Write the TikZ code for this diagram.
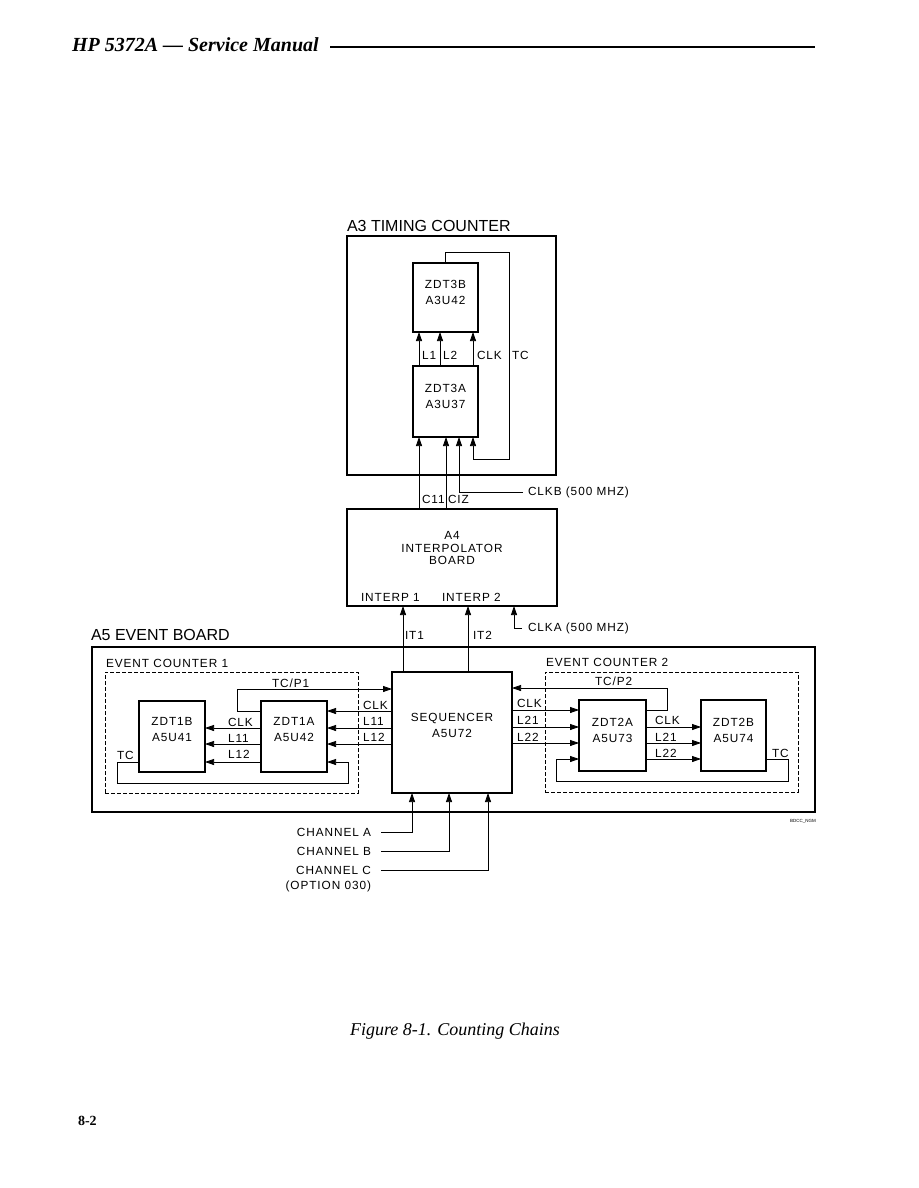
\documentclass[tikz,border=0pt]{standalone}
\usepackage{fontspec}
\setmainfont{Liberation Serif}
\newfontfamily\dfont[LetterSpace=8]{Liberation Sans}
\newfontfamily\bigfont{Liberation Sans}
\usetikzlibrary{arrows.meta,calc}
\begin{document}
\begin{tikzpicture}[x=1pt,y=-1pt,
  every node/.style={inner sep=0pt, outer sep=0pt},
  lbl/.style={font=\dfont\fontsize{11.8}{14}\selectfont, anchor=west},
  big/.style={font=\bigfont\fontsize{16}{19}\selectfont, anchor=base west},
  chiptxt/.style={font=\dfont\fontsize{11.8}{16}\selectfont, align=center},
  chip/.style={draw, line width=1.1pt, anchor=north west},
  board/.style={draw, line width=1.6pt, anchor=north west},
  ecbox/.style={draw, dash pattern=on 4pt off 2pt, line width=0.6pt, anchor=north west},
  wire/.style={line width=0.75pt},
  arr/.style={wire, -{Triangle[length=9pt,width=6pt]}},
]
\fill[white] (0,0) rectangle (918,1188);
\useasboundingbox (0,0) rectangle (918,1188);

% header
\node[font=\bfseries\itshape\fontsize{20}{23}\selectfont, anchor=base west] (hdr) at (72,52) {HP 5372A — Service Manual};
\draw[line width=1.4pt] (330,47) -- (815,47);

% ---------- A3 ----------
\node[big] (a3lbl) at (347,231) {A3 TIMING COUNTER};
\node[board, minimum width=209pt, minimum height=239pt] (a3) at (347,236) {};
\node[chip, minimum width=65pt, minimum height=69pt] (z3b) at (413,263) {};
\node[chiptxt] (z3bt) at ([yshift=-29pt]z3b.north) {ZDT3B\\A3U42};
\node[chip, minimum width=65pt, minimum height=71pt] (z3a) at (413,366) {};
\node[chiptxt] (z3at) at ([yshift=-30pt]z3a.north) {ZDT3A\\A3U37};

\draw[arr] ([xshift=6pt]z3a.north west) -- ([xshift=6pt]z3b.south west);
\draw[arr] ([xshift=27pt]z3a.north west) -- ([xshift=27pt]z3b.south west);
\draw[arr] ([xshift=60pt]z3a.north west) -- ([xshift=60pt]z3b.south west);
\coordinate (tctop) at (509,252);
\coordinate (tcbot) at (509,459);
\draw[arr] (z3b.north) |- (tctop) -- (tcbot) -| ([xshift=60pt]z3a.south west);
\node[lbl] (l1) at (422,355) {L1};
\node[lbl] (l2) at (443,355) {L2};
\node[lbl] (clk3) at (477,355) {CLK};
\node[lbl] (tc3) at (512,355) {TC};

% ---------- A4 ----------
\node[board, minimum width=210pt, minimum height=97pt] (a4) at (347,509) {};
\node[font=\dfont\fontsize{11.8}{12.5}\selectfont, align=center] (a4t) at (452,548) {A4\\INTERPOLATOR\\BOARD};
\node[lbl] (ip1) at (361,597) {INTERP 1};
\node[lbl] (ip2) at (442,597) {INTERP 2};

\draw[arr] ([xshift=72pt]a4.north west) -- ([xshift=6pt]z3a.south west);
\draw[arr] ([xshift=99pt]a4.north west) -- ([xshift=33pt]z3a.south west);
\coordinate (clkb) at (523,492);
\draw[arr] (clkb) -| ([xshift=46pt]z3a.south west);
\node[lbl] (c11) at (422,499) {C11};
\node[lbl] (c12) at (448,499) {CIZ};
\node[lbl] (clkbl) at (528,492) {CLKB (500 MHZ)};

% ---------- A5 ----------
\node[big] (a5lbl) at (91,640) {A5 EVENT BOARD};
\node[board, minimum width=723pt, minimum height=165pt] (a5) at (92,647) {};
\node[ecbox, minimum width=253pt, minimum height=121pt] (ec1) at (105,672) {};
\node[ecbox, minimum width=253pt, minimum height=120pt] (ec2) at (545,672) {};
\node[lbl] (ec1l) at (106,663) {EVENT COUNTER 1};
\node[lbl] (ec2l) at (546,662) {EVENT COUNTER 2};

\node[chip, minimum width=66pt, minimum height=71pt] (z1b) at (139,701) {};
\node[chiptxt] (z1bt) at ([yshift=-28pt]z1b.north) {ZDT1B\\A5U41};
\node[chip, minimum width=66pt, minimum height=71pt] (z1a) at (261,701) {};
\node[chiptxt] (z1at) at ([yshift=-28pt]z1a.north) {ZDT1A\\A5U42};
\node[chip, minimum width=120pt, minimum height=121pt] (seq) at (392,672) {};
\node[chiptxt] (seqt) at ([yshift=-53pt]seq.north) {SEQUENCER\\A5U72};
\node[chip, minimum width=67pt, minimum height=71pt] (z2a) at (579,700) {};
\node[chiptxt] (z2at) at ([yshift=-30pt]z2a.north) {ZDT2A\\A5U73};
\node[chip, minimum width=65pt, minimum height=71pt] (z2b) at (701,700) {};
\node[chiptxt] (z2bt) at ([yshift=-30pt]z2b.north) {ZDT2B\\A5U74};

% A4 inputs
\draw[arr] ([xshift=11pt]seq.north west) -- ([xshift=56pt]a4.south west);
\draw[arr] ([xshift=76pt]seq.north west) -- ([xshift=121pt]a4.south west);
\coordinate (clka) at (522,628);
\draw[arr] (clka) -| ([xshift=167pt]a4.south west);
\node[lbl] (it1) at (405,635) {IT1};
\node[lbl] (it2) at (473,635) {IT2};
\node[lbl] (clkal) at (528,628) {CLKA (500 MHZ)};

% left counter
\coordinate (r1a) at ([yshift=-10pt]z1a.north east);
\coordinate (r2a) at ([yshift=-27pt]z1a.north east);
\coordinate (r3a) at ([yshift=-43pt]z1a.north east);
\coordinate (r4a) at ([yshift=-61pt]z1a.north east);
\draw[arr] (seq.west |- r1a) -- (r1a);
\draw[arr] (seq.west |- r2a) -- (r2a);
\draw[arr] (seq.west |- r3a) -- (r3a);
\coordinate (tcp1) at (237,689);
\draw[arr] ([yshift=-10pt]z1a.north west) -| (tcp1) -- (seq.west |- tcp1);
\draw[arr] ([yshift=-27pt]z1a.north west) -- ([yshift=-27pt]z1b.north east);
\draw[arr] ([yshift=-43pt]z1a.north west) -- ([yshift=-43pt]z1b.north east);
\draw[arr] ([yshift=-61pt]z1a.north west) -- ([yshift=-61pt]z1b.north east);
\coordinate (tcl1) at (117,783);
\coordinate (tcl2) at (348,783);
\draw[arr] ([yshift=-61pt]z1b.north west) -| (tcl1) -- (tcl2) |- (r4a);
\node[lbl] (tcp1l) at (272,683) {TC/P1};
\node[lbl] (sclk1) at (363,705) {CLK};
\node[lbl] (sl11) at (363,721) {L11};
\node[lbl] (sl12) at (363,737) {L12};
\node[lbl] (bclk1) at (228,722) {CLK};
\node[lbl] (bl11) at (228,738) {L11};
\node[lbl] (bl12) at (228,754) {L12};
\node[lbl] (tc1) at (117,755) {TC};

% right counter
\coordinate (r1b) at ([yshift=-10pt]z2a.north west);
\coordinate (r2b) at ([yshift=-27pt]z2a.north west);
\coordinate (r3b) at ([yshift=-43pt]z2a.north west);
\coordinate (r4b) at ([yshift=-59pt]z2a.north west);
\draw[arr] (seq.east |- r1b) -- (r1b);
\draw[arr] (seq.east |- r2b) -- (r2b);
\draw[arr] (seq.east |- r3b) -- (r3b);
\coordinate (tcp2) at (667,688);
\draw[arr] ([yshift=-10pt]z2a.north east) -| (tcp2) -- (seq.east |- tcp2);
\draw[arr] ([yshift=-27pt]z2a.north east) -- ([yshift=-27pt]z2b.north west);
\draw[arr] ([yshift=-43pt]z2a.north east) -- ([yshift=-43pt]z2b.north west);
\draw[arr] ([yshift=-59pt]z2a.north east) -- ([yshift=-59pt]z2b.north west);
\coordinate (tcr1) at (788,781);
\coordinate (tcr2) at (556,781);
\draw[arr] ([yshift=-59pt]z2b.north east) -| (tcr1) -- (tcr2) |- (r4b);
\node[lbl] (tcp2l) at (595,681) {TC/P2};
\node[lbl] (sclk2) at (517,703) {CLK};
\node[lbl] (sl21) at (517,720) {L21};
\node[lbl] (sl22) at (517,737) {L22};
\node[lbl] (bclk2) at (655,720) {CLK};
\node[lbl] (bl21) at (655,737) {L21};
\node[lbl] (bl22) at (655,753) {L22};
\node[lbl] (tc2) at (772,753) {TC};

\node[font=\bigfont\fontsize{4.5}{5}\selectfont] (code) at (803,821) {BDCC\_NGM};

% channels
\coordinate (cha) at (381,832);
\coordinate (chb) at (381,851);
\coordinate (chc) at (381,870);
\draw[arr] (cha) -| ([xshift=20pt]seq.south west);
\draw[arr] (chb) -| ([xshift=57pt]seq.south west);
\draw[arr] (chc) -| ([xshift=96pt]seq.south west);
\node[lbl, anchor=east] (chal) at (371,832) {CHANNEL A};
\node[lbl, anchor=east] (chbl) at (371,851) {CHANNEL B};
\node[lbl, anchor=east] (chcl) at (371,870) {CHANNEL C};
\node[lbl, anchor=east] (optl) at (371,886) {(OPTION 030)};

% caption & page number
\node[font=\itshape\fontsize{18}{21}\selectfont, anchor=base] (cap) at (455,1035) {Figure 8-1. Counting Chains};
\node[font=\bfseries\fontsize{14}{16}\selectfont, anchor=base west] (pg) at (78,1125) {8-2};
\end{tikzpicture}
\end{document}
